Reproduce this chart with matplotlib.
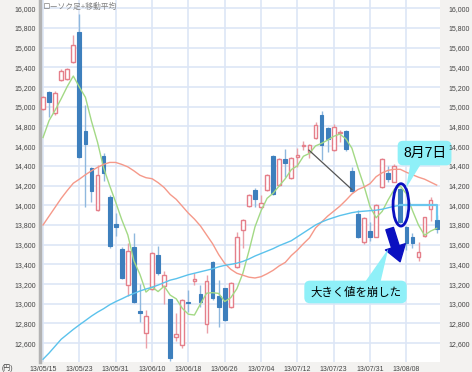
import matplotlib
matplotlib.use("Agg")
import matplotlib.pyplot as plt
import numpy as np
from matplotlib.patches import Ellipse, Polygon
from matplotlib.ticker import FuncFormatter

plt.rcParams['font.family'] = ['Liberation Sans', 'Noto Sans CJK JP', 'DejaVu Sans']

# --- data (Nikkei 225 daily, 13/05/15 - 13/08/15) ---
tick_labels = ["13/05/15", "13/05/23", "13/05/31", "13/06/10", "13/06/18", "13/06/26",
               "13/07/04", "13/07/12", "13/07/23", "13/07/31", "13/08/08"]

opens = [14975, 15150, 14940, 15270, 15280, 15455, 15755, 14750, 14380, 13953,
         14500, 14080, 13810, 13560, 13190, 13574, 12930, 12707, 13147, 13500,
         13178, 13045, 12667, 12583, 13020, 13229, 13100, 12790, 13428, 13077,
         13158, 12969, 13378, 13750, 13990, 14156, 13980, 14156, 14500, 14206,
         14470, 14274, 14490, 14600, 14545, 14681, 14918, 14782, 14562, 14731,
         14758, 14350, 13910, 13631, 13743, 13682, 14183, 14325, 14240, 14163,
         13783, 13682, 13473, 13689, 13960, 13851]
highs = [15110, 15165, 15160, 15380, 15395, 15730, 15942, 15020, 14390, 14410,
         14528, 14105, 13925, 13575, 13615, 13720, 13200, 12937, 13525, 13588,
         13333, 13050, 12904, 13045, 13140, 13310, 13189, 13290, 13435, 13239,
         13165, 13220, 13733, 13865, 14110, 14173, 14105, 14320, 14510, 14480,
         14569, 14490, 14579, 14653, 14625, 14849, 14961, 14790, 14825, 14765,
         14765, 14386, 13953, 13880, 13834, 14010, 14485, 14399, 14415, 14175,
         13790, 13723, 13631, 13885, 14082, 13902]
lows = [14965, 14900, 14920, 15265, 15275, 15445, 14485, 13986, 14037, 13945,
        14250, 13567, 13689, 13250, 13075, 13010, 12820, 12552, 13140, 13290,
        13000, 12415, 12626, 12548, 12920, 13189, 12969, 12700, 13036, 12760,
        12830, 12960, 13361, 13566, 13980, 13986, 13975, 14150, 14109, 14200,
        14287, 14270, 14392, 14562, 14477, 14675, 14460, 14545, 14555, 14646,
        14552, 14135, 13665, 13608, 13642, 13675, 14180, 14240, 14235, 13825,
        13547, 13564, 13439, 13680, 13844, 13723]
closes = [15100, 15050, 15140, 15360, 15381, 15627, 14494, 14620, 14149, 14311,
          14331, 13589, 13777, 13260, 13540, 13015, 12904, 12877, 13515, 13310,
          13290, 12446, 12690, 13035, 13008, 13249, 13015, 13230, 13063, 12970,
          12836, 13212, 13677, 13855, 14100, 14062, 14027, 14310, 14115, 14473,
          14427, 14485, 14506, 14605, 14615, 14810, 14614, 14670, 14790, 14735,
          14569, 14140, 13673, 13870, 13676, 14004, 14467, 14264, 14401, 13834,
          13615, 13621, 13525, 13879, 14050, 13757]

ma5 = [14688, 14860, 14966, 15082, 15206, 15312, 15200, 15096, 14854, 14640,
       14381, 14200, 14031, 13854, 13699, 13436, 13299, 13119, 13170, 13124,
       13179, 13088, 13050, 12954, 12894, 12886, 12999, 13107, 13113, 13105,
       13023, 13062, 13152, 13310, 13536, 13781, 13944, 14071, 14123, 14197,
       14270, 14362, 14401, 14498, 14527, 14603, 14629, 14662, 14700, 14723,
       14675, 14580, 14381, 14197, 13986, 13873, 13938, 14056, 14162, 14194,
       14116, 13947, 13799, 13695, 13738, 13766]
ma25 = [13800, 13890, 13980, 14070, 14150, 14224, 14265, 14310, 14350, 14385,
        14415, 14435, 14435, 14415, 14390, 14350, 14305, 14280, 14270, 14230,
        14180, 14110, 14060, 13990, 13920, 13860, 13790, 13700, 13610, 13500,
        13410, 13350, 13310, 13290, 13270, 13262, 13275, 13305, 13340, 13385,
        13420, 13490, 13545, 13610, 13670, 13770, 13830, 13890, 13940, 13990,
        14050, 14115, 14160, 14185, 14220, 14290, 14330, 14355, 14365, 14365,
        14335, 14310, 14285, 14265, 14235, 14205]
ma75 = [12437, 12500, 12570, 12640, 12690, 12740, 12786, 12830, 12875, 12915,
        12950, 12990, 13022, 13050, 13080, 13105, 13130, 13150, 13168, 13190,
        13215, 13240, 13255, 13275, 13295, 13310, 13325, 13340, 13355, 13375,
        13390, 13400, 13412, 13430, 13455, 13485, 13510, 13535, 13560, 13590,
        13615, 13640, 13680, 13720, 13760, 13800, 13830, 13855, 13875, 13895,
        13910, 13925, 13935, 13940, 13945, 13950, 13960, 13975, 13990, 14000]

RED = '#e57f8a'
RED_WICK = '#eaa0a8'
BLUE = '#3d7fbd'
BLUE_WICK = '#8fb8de'
CYAN_BOX = '#8ff0f8'

fig = plt.figure(figsize=(4.72, 3.72), dpi=100, facecolor='#f3f2f0')
ax = fig.add_axes([40 / 472, 10 / 372, 400 / 472, 362 / 372])
ax.set_facecolor('white')

x = np.arange(len(closes))
o = np.array(opens)
c = np.array(closes)
up = c >= o

# wicks
ax.vlines(x[up], np.array(lows)[up], np.array(highs)[up], color=RED_WICK, lw=1, zorder=2)
ax.vlines(x[~up], np.array(lows)[~up], np.array(highs)[~up], color=BLUE_WICK, lw=1, zorder=2)

# bodies
body_w = 0.62
ax.bar(x[up], np.maximum(c - o, 8)[up], bottom=o[up], width=body_w,
       facecolor='white', edgecolor=RED, lw=1, zorder=3)
ax.bar(x[~up], (o - c)[~up], bottom=c[~up], width=body_w,
       facecolor=BLUE, edgecolor=BLUE, lw=0.8, zorder=3)

# moving averages
ax.plot(x, ma5, color='#a3d985', lw=1, zorder=4)
ax.plot(x, ma25, color='#f5998a', lw=1, zorder=4)
ax.plot(x[:len(ma75)], ma75, color='#5bc2ec', lw=1, zorder=4)

# drawn lines
ax.plot([59, 65, 65], [14004, 14004, 13860], color='#6cc6ee', lw=1.6, zorder=4)
ax.plot([43.9, 51], [14560, 14160], color='#555555', lw=0.9, zorder=5)

# ellipse around 8/7 candle
ax.add_patch(Ellipse((59.1, 14004), width=2.6, height=430, fill=False,
                     ec='#0a10c0', lw=2, zorder=6))

# arrow
ax.annotate('', xy=(59.1, 13400), xytext=(57.1, 13790),
            arrowprops=dict(arrowstyle='simple,head_length=0.75,head_width=1.0,tail_width=0.38',
                            mutation_scale=15, fc='#0a10c0', ec='#0a10c0'), zorder=6)

# callouts
ax.add_patch(Polygon([(60.7, 14440), (62.6, 14440), (59.95, 14173)], closed=True,
                     fc=CYAN_BOX, ec='none', zorder=7, clip_on=False))
ax.text(63.0, 14530, '8月7日', fontsize=10, ha='center', va='center', zorder=8,
        clip_on=False,
        bbox=dict(boxstyle='round,pad=0.38', fc=CYAN_BOX, ec='none'))

ax.add_patch(Polygon([(53.1, 13215), (55.7, 13215), (57.0, 13557)], closed=True,
                     fc=CYAN_BOX, ec='none', zorder=7))
ax.text(51.6, 13120, '大きく値を崩した', fontsize=8.2, ha='center', va='center', zorder=8,
        bbox=dict(boxstyle='round,pad=0.5', fc=CYAN_BOX, ec='none'))

# axes setup
ylo, yhi = 12409, 16084
ax.set_xlim(-0.5, 65.55)
ax.set_ylim(ylo, yhi)
yt = np.arange(12600, 16001, 200)
ax.set_yticks(yt)
ax.set_xticks(np.arange(0, 66, 6))
ax.set_xticklabels(tick_labels)
fmt = FuncFormatter(lambda v, p: '{:,.0f}'.format(v))
ax.yaxis.set_major_formatter(fmt)
ax.tick_params(axis='both', length=0, labelsize=5, labelcolor='#444444')
ax.tick_params(axis='y', pad=3)
ax.tick_params(axis='x', pad=3)
ax.grid(color='#dde6f6', lw=1.2)
ax.set_axisbelow(True)
for s in ['top', 'right', 'bottom']:
    ax.spines[s].set_visible(False)
ax.spines['left'].set_color('#b3b3b3')
ax.spines['left'].set_linewidth(2.5)

ax2 = ax.twinx()
ax2.set_ylim(ylo, yhi)
ax2.set_yticks(yt)
ax2.yaxis.set_major_formatter(fmt)
ax2.tick_params(axis='y', length=0, labelsize=5, labelcolor='#444444', pad=6)
for s in ax2.spines.values():
    s.set_visible(False)

fig.text(43 / 472, 1 - 7 / 372, 'ローソク足+移動平均', fontsize=5.6, color='#808080',
         ha='left', va='center')
fig.text(2 / 472, 1 - 368 / 372, '(円)', fontsize=5, color='#444444',
         ha='left', va='center')

fig.savefig('out.png', dpi=100, facecolor=fig.get_facecolor())
